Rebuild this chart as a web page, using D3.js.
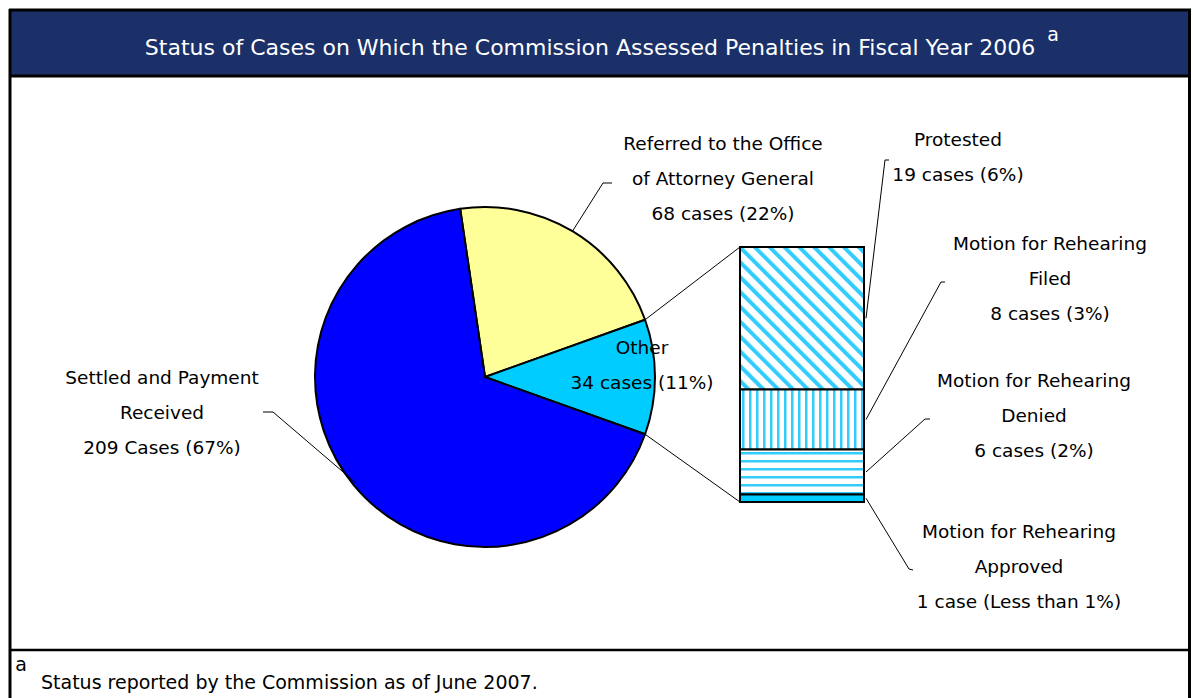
<!DOCTYPE html>
<html>
<head>
<meta charset="utf-8">
<script src="https://cdn.jsdelivr.net/npm/d3@7/dist/d3.min.js"></script>
<style>
  html, body { margin: 0; padding: 0; background: #fff; }
  svg { display: block; }
  text { font-family: "DejaVu Sans", sans-serif; }
</style>
</head>
<body>
<svg id="chart" width="1193" height="698"></svg>
<script>
// ---- data ----
const titleText = "Status of Cases on Which the Commission Assessed Penalties in Fiscal Year 2006";
const footnoteText = "Status reported by the Commission as of June 2007.";

const pieCategories = ["Referred to the Office of Attorney General", "Other", "Settled and Payment Received"];
const pieValues = [68, 34, 209];
const pieColors = ["#ffff99", "#00ccff", "#0000ff"];
const pieLabelLines = [
  ["Referred to the Office", "of Attorney General", "68 cases (22%)"],
  ["Other", "34 cases (11%)"],
  ["Settled and Payment", "Received", "209 Cases (67%)"]
];

const barCategories = ["Protested", "Motion for Rehearing Filed", "Motion for Rehearing Denied", "Motion for Rehearing Approved"];
const barValues = [19, 8, 6, 1];
const barLabelLines = [
  ["Protested", "19 cases (6%)"],
  ["Motion for Rehearing", "Filed", "8 cases (3%)"],
  ["Motion for Rehearing", "Denied", "6 cases (2%)"],
  ["Motion for Rehearing", "Approved", "1 case (Less than 1%)"]
];

// ---- layout ----
const svg = d3.select("#chart");
const W = 1193, H = 698;
const fontSize = 18.5, lineGap = 35;

// patterns
const defs = svg.append("defs");
const cyan = "#33ccff";
const pDiag = defs.append("pattern").attr("id", "pDiag").attr("patternUnits", "userSpaceOnUse")
  .attr("width", 10.5).attr("height", 10.5).attr("patternTransform", "rotate(-45)");
pDiag.append("rect").attr("width", 10.5).attr("height", 10.5).attr("fill", "#fff");
pDiag.append("rect").attr("x", 0).attr("width", 4).attr("height", 10.5).attr("fill", cyan);
const pVert = defs.append("pattern").attr("id", "pVert").attr("patternUnits", "userSpaceOnUse")
  .attr("x", 740).attr("width", 7).attr("height", 7);
pVert.append("rect").attr("width", 7).attr("height", 7).attr("fill", "#fff");
pVert.append("rect").attr("x", 2).attr("width", 2.5).attr("height", 7).attr("fill", cyan);
const pHorz = defs.append("pattern").attr("id", "pHorz").attr("patternUnits", "userSpaceOnUse")
  .attr("y", 450).attr("width", 8).attr("height", 8);
pHorz.append("rect").attr("width", 8).attr("height", 8).attr("fill", "#fff");
pHorz.append("rect").attr("y", 2).attr("width", 8).attr("height", 2.5).attr("fill", cyan);
const barFills = ["url(#pDiag)", "url(#pVert)", "url(#pHorz)", "#00ccff"];

// frame and title bar
svg.append("rect").attr("x", 11).attr("y", 11).attr("width", 1177).attr("height", 64).attr("fill", "#1b3068");
svg.append("line").attr("x1", 9).attr("x2", 1191).attr("y1", 10).attr("y2", 10).attr("stroke", "#000").attr("stroke-width", 3);
svg.append("line").attr("x1", 9).attr("x2", 1191).attr("y1", 76).attr("y2", 76).attr("stroke", "#000").attr("stroke-width", 3);
svg.append("line").attr("x1", 10).attr("x2", 10).attr("y1", 9).attr("y2", H).attr("stroke", "#000").attr("stroke-width", 3);
svg.append("line").attr("x1", 1189.5).attr("x2", 1189.5).attr("y1", 9).attr("y2", H).attr("stroke", "#000").attr("stroke-width", 3);
svg.append("line").attr("x1", 9).attr("x2", 1191).attr("y1", 650).attr("y2", 650).attr("stroke", "#000").attr("stroke-width", 2.5);

svg.append("text").attr("x", 590).attr("y", 55).attr("text-anchor", "middle")
  .attr("fill", "#fff").attr("font-size", 22).text(titleText);
svg.append("text").attr("x", 1053).attr("y", 41).attr("text-anchor", "middle").attr("fill", "#fff")
  .attr("font-size", 19).text("a");

svg.append("text").attr("x", 21).attr("y", 671).attr("text-anchor", "middle").attr("font-size", 19).text("a");
svg.append("text").attr("x", 41).attr("y", 689).attr("font-size", 19).text(footnoteText);

// ---- pie ----
const cx = 485, cy = 377, R = 170;
const total = d3.sum(pieValues);
const otherIdx = 1;
const before = d3.sum(pieValues.slice(0, otherIdx)) + pieValues[otherIdx] / 2;
const startA = Math.PI / 2 - before / total * 2 * Math.PI;
const pie = d3.pie().sort(null).value(d => d).startAngle(startA).endAngle(startA + 2 * Math.PI);
const arcs = pie(pieValues);
const arc = d3.arc().innerRadius(0).outerRadius(R);
const gPie = svg.append("g").attr("transform", `translate(${cx},${cy})`);
gPie.selectAll("path").data(arcs).join("path")
  .attr("d", arc).attr("fill", (d, i) => pieColors[i])
  .attr("stroke", "#000").attr("stroke-width", 2).attr("stroke-linejoin", "round");

// ---- bar of pie ----
const barX0 = 740, barX1 = 864;
const yBar = d3.scaleLinear().domain([0, d3.sum(barValues)]).range([247, 502]);
let acc = 0;
const segs = barValues.map((v, i) => { const s = { i, y0: acc, y1: acc + v, v }; acc += v; return s; });
const gBar = svg.append("g");
gBar.selectAll("rect").data(segs).join("rect")
  .attr("x", barX0).attr("width", barX1 - barX0)
  .attr("y", d => yBar(d.y0)).attr("height", d => yBar(d.y1) - yBar(d.y0))
  .attr("fill", d => barFills[d.i]).attr("stroke", "#000").attr("stroke-width", 2);

// connector lines between Other slice and bar
const oa = arcs[otherIdx];
const pt = (a, r) => [cx + r * Math.sin(a), cy - r * Math.cos(a)];
const pA = pt(oa.startAngle, R), pB = pt(oa.endAngle, R);
svg.append("line").attr("x1", pA[0]).attr("y1", pA[1]).attr("x2", barX0).attr("y2", yBar(0))
  .attr("stroke", "#000").attr("stroke-width", 1);
svg.append("line").attr("x1", pB[0]).attr("y1", pB[1]).attr("x2", barX0).attr("y2", yBar(d3.sum(barValues)))
  .attr("stroke", "#000").attr("stroke-width", 1);

// ---- labels ----
function block(x, yFirst, lines) {
  const t = svg.append("text").attr("text-anchor", "middle").attr("font-size", fontSize).attr("fill", "#000");
  lines.forEach((l, k) => t.append("tspan").attr("x", x).attr("y", yFirst + k * lineGap).text(l));
}
const pieLabelPos = [[723, 150], [642, 354], [162, 384]];
pieLabelLines.forEach((lines, i) => block(pieLabelPos[i][0], pieLabelPos[i][1], lines));
const barLabelPos = [[958, 146], [1050, 250], [1034, 387], [1019, 538]];
barLabelLines.forEach((lines, i) => block(barLabelPos[i][0], barLabelPos[i][1], lines));

// leader lines
const leader = pts => svg.append("polyline").attr("points", pts.map(p => p.join(",")).join(" "))
  .attr("fill", "none").attr("stroke", "#000").attr("stroke-width", 1);
const mid = d => (d.startAngle + d.endAngle) / 2;
leader([[612, 183], [603, 183], pt(mid(arcs[0]), R)]);
leader([[263, 412], [273, 412], pt(mid(arcs[2]), R - 3)]);
const barLeaderEnds = [[[889, 160], [885, 160]], [[945, 282], [941, 282]], [[930, 419], [925, 419]], [[913, 570], [909, 569]]];
segs.forEach((s, i) => {
  const ym = (yBar(s.y0) + yBar(s.y1)) / 2;
  leader([barLeaderEnds[i][0], barLeaderEnds[i][1], [barX1 + 2, ym]]);
});
</script>
</body>
</html>
